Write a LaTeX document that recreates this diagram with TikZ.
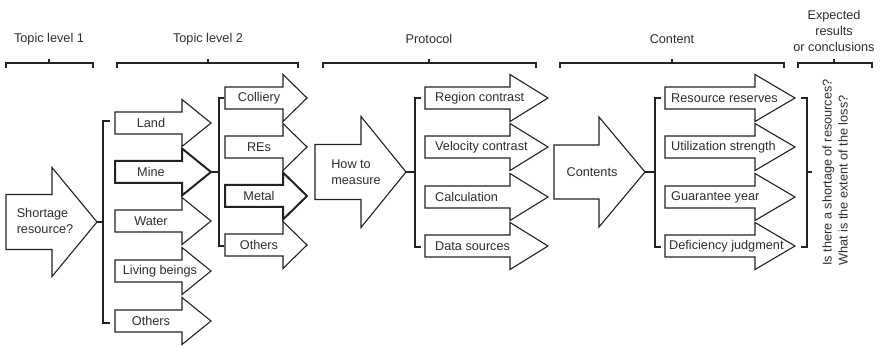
\documentclass[tikz,border=0pt]{standalone}
\usepackage{fontspec}
\setmainfont{Liberation Sans}
\definecolor{ink}{HTML}{2E2E2E}
\definecolor{edge}{HTML}{222222}
% \flowarrow[style]{name}{left}{head start}{tip}{centre y}{shaft half}{head half}
\newcommand{\flowarrow}[8][]{%
  \draw[outline,#1] (#3,#6-#7) -- (#4,#6-#7) -- (#4,#6-#8) -- (#5,#6)
    -- (#4,#6+#8) -- (#4,#6+#7) -- (#3,#6+#7) -- cycle;
  \coordinate (#2-tip) at (#5,#6);}
% \headbrace{left}{right}{centre}
\newcommand{\headbrace}[3]{%
  \draw[brace] (#1,68) -- (#1,63) -- (#2,63) -- (#2,68);
  \draw[brace] (#3,63) -- (#3,59);}
\begin{document}
\begin{tikzpicture}[x=1pt,y=-1pt,
  every node/.style={font=\fontsize{12.7}{16}\selectfont, text=ink, inner sep=0pt},
  outline/.style={draw=edge, line width=1.1pt, fill=white, line join=miter},
  heavy/.style={line width=2pt},
  brace/.style={draw=edge, line width=1.1pt},
  lbl/.style={anchor=center},
  lblw/.style={anchor=west}]
\useasboundingbox (0,0) rectangle (880,347);

% ---- column headings ----
\node[lbl] (h1) at (49,39) {Topic level 1};
\node[lbl] (h2) at (208,39) {Topic level 2};
\node[lbl] (h3) at (429,39) {Protocol};
\node[lbl] (h4) at (672,39) {Content};
\node[lbl, align=center] (h5) at (834,31) {Expected\\results\\or conclusions};
\headbrace{6}{93}{49}
\headbrace{117}{298}{208}
\headbrace{323}{536}{429}
\headbrace{560}{784}{672}
\headbrace{798}{872}{834}

% ---- topic level 1 ----
\flowarrow{short}{6}{52}{97}{222}{27.5}{54.5}
\node[lbl, align=left] (shortage) at (45,221) {Shortage\\resource?};

% ---- topic level 2 ----
\flowarrow{land}{115}{182}{211}{123}{11}{23.5}
\flowarrow[heavy]{mine}{115}{182}{211}{172}{11}{23.5}
\flowarrow{water}{115}{182}{211}{221}{11}{23.5}
\flowarrow{living}{115}{182}{211}{271}{11}{23.5}
\flowarrow{oth1}{115}{182}{211}{321}{11}{23.5}
\node[lbl] (landt) at (151,123) {Land};
\node[lbl] (minet) at (151,172) {Mine};
\node[lbl] (watert) at (151,221) {Water};
\node[lbl] (livingt) at (160,271) {Living beings};
\node[lbl] (oth1t) at (151,321) {Others};

\flowarrow{coll}{225}{283}{307}{98}{11}{23.5}
\flowarrow{res}{225}{283}{307}{147}{11}{23.5}
\flowarrow[heavy]{metal}{225}{283}{307}{196}{11}{23.5}
\flowarrow{oth2}{225}{283}{307}{245}{11}{23.5}
\node[lbl] (collt) at (259,98) {Colliery};
\node[lbl] (rest) at (259,147) {REs};
\node[lbl] (metalt) at (259,196) {Metal};
\node[lbl] (oth2t) at (259,245) {Others};

% ---- protocol ----
\flowarrow{how}{315}{361}{406}{172}{27.5}{55.5}
\node[lbl, align=left] (howt) at (356,172) {How to\\measure};
\flowarrow{reg}{425}{510}{548}{98}{11}{23.5}
\flowarrow{vel}{425}{510}{548}{147}{11}{23.5}
\flowarrow{calc}{425}{510}{548}{197}{11}{23.5}
\flowarrow{data}{425}{510}{548}{246}{11}{23.5}
\node[lblw] (regt) at (435,98) {Region contrast};
\node[lblw] (velt) at (435,147) {Velocity contrast};
\node[lblw] (calct) at (435,197) {Calculation};
\node[lblw] (datat) at (435,246) {Data sources};

% ---- content ----
\flowarrow{cont}{554}{599}{645}{172}{27}{55}
\node[lbl] (contt) at (592,172) {Contents};
\flowarrow{rr}{665}{755}{795}{98}{11}{23.5}
\flowarrow{util}{665}{755}{795}{147}{11}{23.5}
\flowarrow{guar}{665}{755}{795}{197}{11}{23.5}
\flowarrow{defi}{665}{755}{795}{246}{11}{23.5}
\node[lblw] (rrt) at (671,98) {Resource reserves};
\node[lblw] (utilt) at (671,147) {Utilization strength};
\node[lblw] (guart) at (671,197) {Guarantee year};
\node[lblw] (defit) at (669,246) {Deficiency judgment};

% ---- expected results ----
\node[lbl, align=left, rotate=90] (concl) at (835,172.5)
  {Is there a shortage of resources?\\What is the extent of the loss?};

% ---- branching brackets ----
\coordinate (b1) at (103,222);
\draw[brace] (110,121) -- (103,121) -- (103,323) -- (110,323);
\draw[brace] (short-tip) -- (b1);

\coordinate (b2) at (219,172);
\draw[brace] (224,98) -- (219,98) -- (219,246) -- (224,246);
\draw[brace] (mine-tip) -- (b2);

\coordinate (b3) at (415,172);
\draw[brace] (421,98) -- (415,98) -- (415,247) -- (421,247);
\draw[brace] (how-tip) -- (b3);

\coordinate (b4) at (655,172);
\draw[brace] (661,98) -- (655,98) -- (655,247) -- (661,247);
\draw[brace] (cont-tip) -- (b4);

\coordinate (b5) at (807,172);
\coordinate (b5out) at (812,172);
\draw[brace] (801,98) -- (807,98) -- (807,247) -- (801,247);
\draw[brace] (b5) -- (b5out);
\end{tikzpicture}
\end{document}
